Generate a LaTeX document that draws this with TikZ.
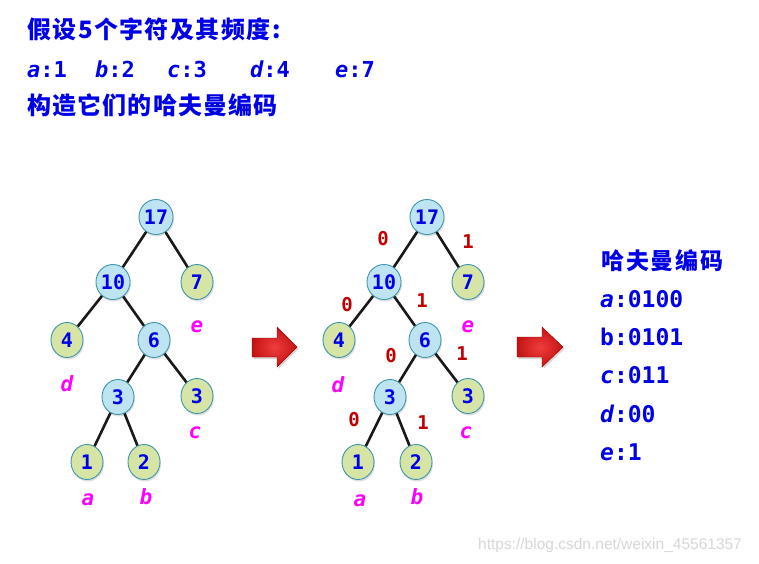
\documentclass[tikz,border=0pt]{standalone}
\usepackage{fontspec}
\usetikzlibrary{shapes.geometric,shadows}
\newfontfamily\monof{DejaVu Sans Mono}
\newfontfamily\cjkA[LetterSpace=6]{Noto Sans CJK SC}
\newfontfamily\cjkB[LetterSpace=5]{Noto Sans CJK SC}
\newfontfamily\cjkC[LetterSpace=8]{Noto Sans CJK SC}
\newfontfamily\wmf{Liberation Sans}
\definecolor{tblue}{RGB}{0,0,230}
\definecolor{tred}{RGB}{192,0,0}
\definecolor{tmag}{RGB}{255,0,255}
\definecolor{ifill}{RGB}{190,228,242}
\definecolor{lfill}{RGB}{214,228,166}
\definecolor{nborder}{RGB}{62,150,170}
\definecolor{wm}{RGB}{215,215,215}
\tikzset{
  tnode/.style={ellipse, draw=nborder, line width=0.9pt, inner sep=0pt,
    minimum width=32pt, minimum height=35pt, text=tblue,
    font=\monof\bfseries\fontsize{20}{24}\selectfont,
    drop shadow={opacity=0.25, shadow xshift=1pt, shadow yshift=-2pt}},
  inode/.style={tnode, fill=ifill},
  lnode/.style={tnode, fill=lfill},
  edge/.style={line width=2.6pt, black!90},
  leaflab/.style={text=tmag, font=\monof\bfseries\itshape\fontsize{21}{24}\selectfont, inner sep=0pt},
  bitlab/.style={text=tred, font=\monof\bfseries\fontsize{19}{22}\selectfont, inner sep=0pt},
  toptext/.style={text=tblue, anchor=base west, inner sep=0pt},
  codetext/.style={text=tblue, anchor=base west, inner sep=0pt, font=\monof\bfseries\fontsize{23}{27}\selectfont},
  blockarrow/.style={draw=red!60!black, line width=0.4pt, inner color={rgb,255:red,240;green,60;blue,60}, outer color={rgb,255:red,195;green,20;blue,20},
    drop shadow={opacity=0.3, shadow xshift=1.5pt, shadow yshift=-2pt}}
}
\begin{document}
\begin{tikzpicture}[x=1pt,y=-1pt]
\useasboundingbox (0,0) rectangle (759,563);
\fill[white] (0,0) rectangle (759,563);

% header text
\node[toptext, font=\cjkA\bfseries\fontsize{24}{28}\selectfont] (t1) at (27,38) {假设5个字符及其频度:};
\node[toptext, font=\monof\bfseries\fontsize{22}{26}\selectfont] (fa) at (27,77) {\itshape a\upshape:1};
\node[toptext, font=\monof\bfseries\fontsize{22}{26}\selectfont] (fb) at (95,77) {\itshape b\upshape:2};
\node[toptext, font=\monof\bfseries\fontsize{22}{26}\selectfont] (fc) at (167,77) {\itshape c\upshape:3};
\node[toptext, font=\monof\bfseries\fontsize{22}{26}\selectfont] (fd) at (250,77) {\itshape d\upshape:4};
\node[toptext, font=\monof\bfseries\fontsize{22}{26}\selectfont] (fe) at (335,77) {\itshape e\upshape:7};
\node[toptext, font=\cjkB\bfseries\fontsize{24}{28}\selectfont] (t3) at (27,114) {构造它们的哈夫曼编码};

% left tree
\node[inode] (L17) at (156,217) {17};
\node[inode] (L10) at (113,282) {10};
\node[lnode] (L7)  at (197,282) {7};
\node[lnode] (L4)  at (67,340) {4};
\node[inode] (L6)  at (154,340) {6};
\node[inode] (L3)  at (118,397) {3};
\node[lnode] (L3c) at (197,396) {3};
\node[lnode] (L1)  at (87,462) {1};
\node[lnode] (L2)  at (144,462) {2};
\draw[edge] (L17) -- (L10);
\draw[edge] (L17) -- (L7);
\draw[edge] (L10) -- (L4);
\draw[edge] (L10) -- (L6);
\draw[edge] (L6) -- (L3);
\draw[edge] (L6) -- (L3c);
\draw[edge] (L3) -- (L1);
\draw[edge] (L3) -- (L2);
\node[leaflab] (Le) at (197,327) {e};
\node[leaflab] (Ld) at (67,384) {d};
\node[leaflab] (Lc) at (195,433) {c};
\node[leaflab] (La) at (88,500) {a};
\node[leaflab] (Lb) at (146,497) {b};

% arrow 1
\draw[blockarrow] (252,338) -- (277,338) -- (277,327) -- (297,347) -- (277,367) -- (277,357) -- (252,357) -- cycle;

% right tree
\node[inode] (R17) at (427,217) {17};
\node[inode] (R10) at (384,282) {10};
\node[lnode] (R7)  at (468,282) {7};
\node[lnode] (R4)  at (339,340) {4};
\node[inode] (R6)  at (425,340) {6};
\node[inode] (R3)  at (390,397) {3};
\node[lnode] (R3c) at (468,396) {3};
\node[lnode] (R1)  at (358,462) {1};
\node[lnode] (R2)  at (416,462) {2};
\draw[edge] (R17) -- (R10);
\draw[edge] (R17) -- (R7);
\draw[edge] (R10) -- (R4);
\draw[edge] (R10) -- (R6);
\draw[edge] (R6) -- (R3);
\draw[edge] (R6) -- (R3c);
\draw[edge] (R3) -- (R1);
\draw[edge] (R3) -- (R2);
\node[leaflab] (Re) at (468,327) {e};
\node[leaflab] (Rd) at (338,385) {d};
\node[leaflab] (Rc) at (466,433) {c};
\node[leaflab] (Ra) at (360,501) {a};
\node[leaflab] (Rb) at (417,497) {b};
\node[bitlab] (b1) at (383,239) {0};
\node[bitlab] (b2) at (468,242) {1};
\node[bitlab] (b3) at (347,305) {0};
\node[bitlab] (b4) at (422,301) {1};
\node[bitlab] (b5) at (391,356) {0};
\node[bitlab] (b6) at (462,354) {1};
\node[bitlab] (b7) at (354,420) {0};
\node[bitlab] (b8) at (423,423) {1};

% arrow 2
\draw[blockarrow] (517,337) -- (542,337) -- (542,327) -- (563,347) -- (542,367) -- (542,357) -- (517,357) -- cycle;

% codes
\node[toptext, font=\cjkC\bfseries\fontsize{23}{27}\selectfont] (h) at (601,269) {哈夫曼编码};
\node[codetext] (ca) at (600,307) {\itshape a\upshape:0100};
\node[codetext] (cb) at (600,345) {b:0101};
\node[codetext] (cc) at (600,383) {\itshape c\upshape:011};
\node[codetext] (cd) at (600,422) {\itshape d\upshape:00};
\node[codetext] (ce) at (600,460) {\itshape e\upshape:1};

% watermark
\node[anchor=base west, inner sep=0pt, text=wm, font=\wmf\fontsize{15.5}{18}\selectfont] (wmk) at (478,549) {https://blog.csdn.net/weixin\_45561357};
\end{tikzpicture}
\end{document}
